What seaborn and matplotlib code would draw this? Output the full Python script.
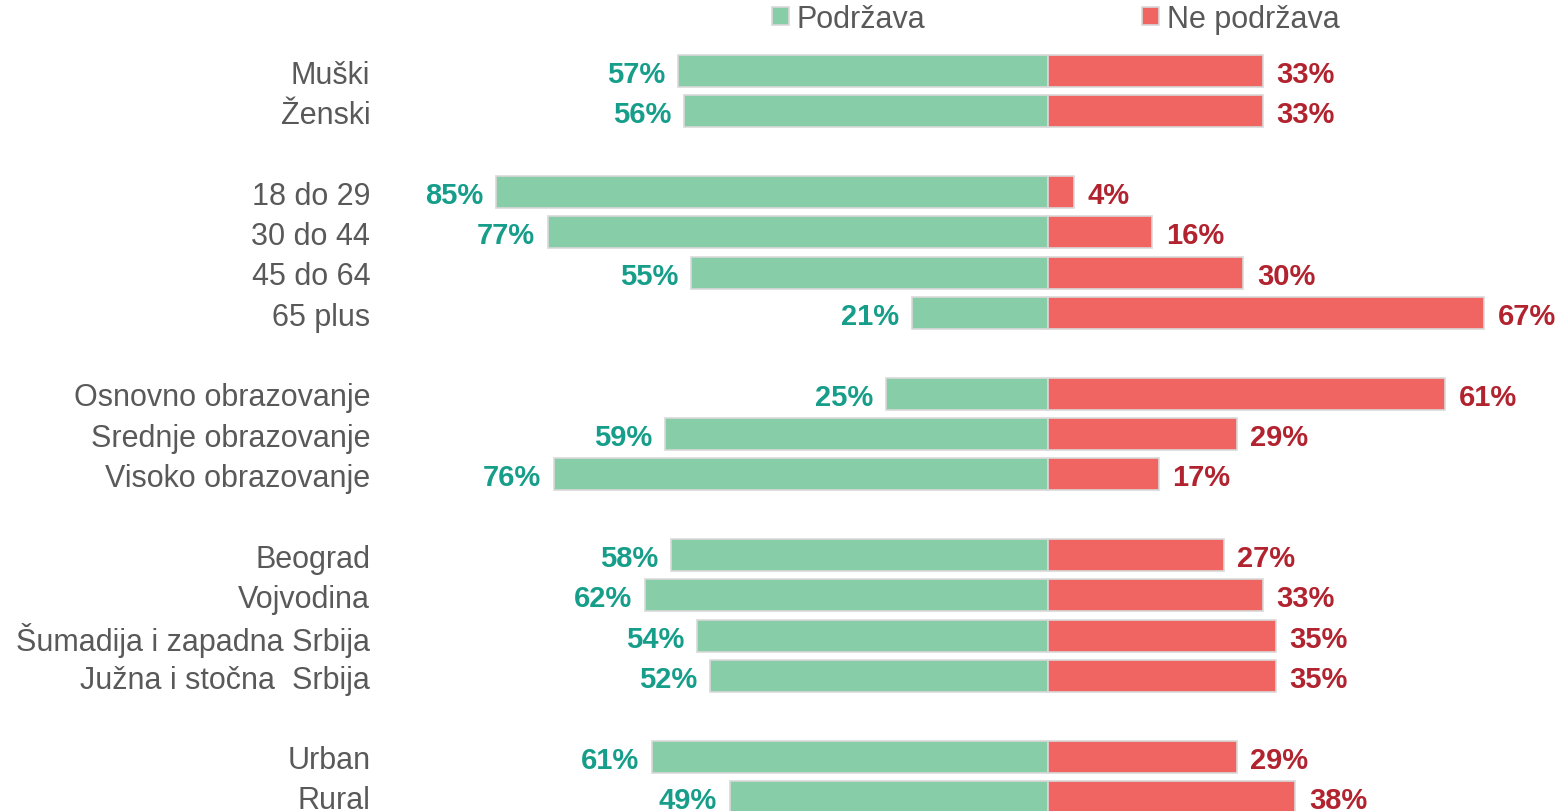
import pandas as pd
import matplotlib.pyplot as plt
import seaborn as sns

categories = ["Muški", "Ženski",
              "18 do 29", "30 do 44", "45 do 64", "65 plus",
              "Osnovno obrazovanje", "Srednje obrazovanje", "Visoko obrazovanje",
              "Beograd", "Vojvodina", "Šumadija i zapadna Srbija", "Južna i stočna  Srbija",
              "Urban", "Rural"]
group_sizes = [2, 4, 3, 4, 2]
podrzava = [57, 56, 85, 77, 55, 21, 25, 59, 76, 58, 62, 54, 52, 61, 49]
ne_podrzava = [33, 33, 4, 16, 30, 67, 61, 29, 17, 27, 33, 35, 35, 29, 38]

GREEN = "#86CDA8"
RED = "#F06462"
GREEN_TXT = "#169E8A"
RED_TXT = "#B1232F"
GREY_TXT = "#595959"

# one empty row between groups
rows = []
pos = 0
for n in group_sizes:
    rows.extend(range(pos, pos + n))
    pos += n + 1

df = pd.DataFrame({"row": rows, "label": categories,
                   "support": [-v for v in podrzava], "oppose": ne_podrzava})

sns.set_style("white")
plt.rcParams["font.family"] = ["Liberation Sans", "DejaVu Sans"]

W, H = 1566, 812
fig = plt.figure(figsize=(W / 100, H / 100), dpi=100)
ax = fig.add_axes([380 / W, 0, 1 - 380 / W, 1])

bar_kw = dict(orient="h", native_scale=True, width=0.8, errorbar=None, saturation=1,
              edgecolor="#D9D9D9", linewidth=1.2, ax=ax)
sns.barplot(data=df, x="support", y="row", color=GREEN, label="Podržava", **bar_kw)
sns.barplot(data=df, x="oppose", y="row", color=RED, label="Ne podržava", **bar_kw)

texts = ax.bar_label(ax.containers[0], labels=[f"{v}%" for v in podrzava], padding=9,
                     color=GREEN_TXT, fontsize=21, fontweight="bold")
texts += ax.bar_label(ax.containers[1], labels=[f"{v}%" for v in ne_podrzava], padding=10,
                      color=RED_TXT, fontsize=21, fontweight="bold")
for t in texts:
    t.set_va("center_baseline")

# center at x=1048px, 6.5px per percent
ax.set_xlim((380 - 1048) / 6.5, (W - 1048) / 6.5)
ax.set_ylim(18 + 14 / 40.33, -72 / 40.33)
ax.set_xticks([])
ax.set_yticks(rows)
ax.set_yticklabels(categories, fontsize=22, color=GREY_TXT)
ax.tick_params(axis="y", length=0, pad=7)
ax.set_xlabel("")
ax.set_ylabel("")
sns.despine(ax=ax, left=True, bottom=True)

ax.legend(loc="center left", bbox_to_anchor=(772 / W, 1 - 20 / H),
          bbox_transform=fig.transFigure, ncol=2, frameon=False,
          handlelength=0.55, handleheight=0.55, handletextpad=0.25,
          columnspacing=7.1, borderpad=0, borderaxespad=0,
          fontsize=22, labelcolor=GREY_TXT)

fig.savefig("out.png", dpi=100)
